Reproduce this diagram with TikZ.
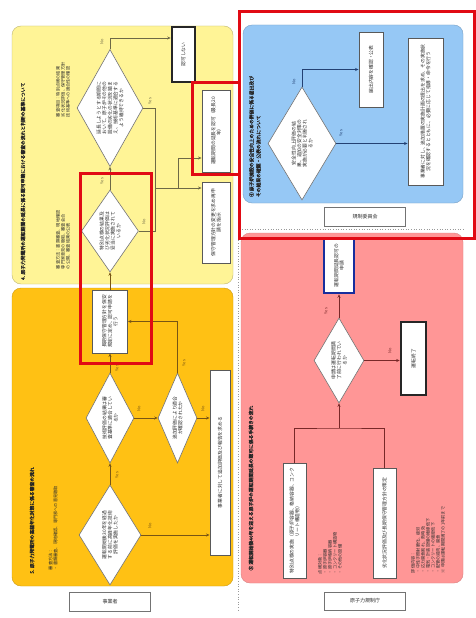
\documentclass[tikz,border=0pt]{standalone}
\usepackage{fontspec}
\setmainfont{Noto Sans CJK JP}
\newfontfamily\jpbold{Noto Sans CJK JP}[FakeBold=2]
\usepackage{graphicx}
\usetikzlibrary{shapes.geometric,arrows.meta}
\XeTeXlinebreaklocale "ja"
\XeTeXlinebreakskip=0pt plus 1pt

\definecolor{pnlyellow}{RGB}{255,244,150}
\definecolor{pnlorange}{RGB}{255,193,20}
\definecolor{pnlblue}{RGB}{150,200,245}
\definecolor{pnlpink}{RGB}{255,150,150}
\definecolor{hlred}{RGB}{225,10,20}
\definecolor{txtgray}{RGB}{45,45,45}
\definecolor{lineY}{RGB}{110,105,70}
\definecolor{lineO}{RGB}{120,85,20}
\definecolor{lineB}{RGB}{35,65,115}
\definecolor{lineP}{RGB}{120,40,40}

% rotated text: centred, or starting at the bottom
\newcommand{\vt}[2]{\rotatebox{90}{\parbox{#1}{\centering #2}}}
\newcommand{\vl}[2]{\rotatebox{90}{\parbox{#1}{\raggedright #2}}}

\tikzset{
  box/.style={draw=black!65, fill=white, line width=0.9pt, inner sep=0pt,
    font=\fontsize{4.8}{5.6}\selectfont, text=txtgray},
  endbox/.style={box, draw=black!85, line width=2.6pt},
  dia/.style={diamond, draw=black!55, fill=white, line width=0.6pt, inner sep=0pt},
  diatext/.style={inner sep=0pt, font=\fontsize{4.8}{5.6}\selectfont, text=txtgray},
  flow/.style={-{Stealth[length=3.5pt,width=3pt]}, line width=0.6pt},
  yn/.style={font=\fontsize{4}{4}\selectfont\itshape, inner sep=0pt, rotate=90},
  note/.style={inner sep=0pt, font=\fontsize{4.2}{5}\selectfont, text=txtgray},
  ttl/.style={inner sep=0pt, font=\jpbold\fontsize{4.8}{5.8}\selectfont, text=black!85},
  tag/.style={draw=black!55, fill=white, line width=0.8pt, minimum width=81pt,
    minimum height=19pt, font=\fontsize{5}{6}\selectfont, text=txtgray},
  hl/.style={draw=hlred, line width=3pt}
}

\begin{document}
\begin{tikzpicture}[x=1pt,y=-1pt]
  \useasboundingbox (0,0) rectangle (476,618);
  \fill[white] (0,0) rectangle (476,618);

  % Panels
  \draw[fill=pnlyellow, draw=pnlyellow!75!black, rounded corners=9pt] (12,26) rectangle (233,284);
  \draw[fill=pnlorange, draw=pnlorange!80!black, rounded corners=9pt] (12,288) rectangle (233,586);
  \draw[fill=pnlblue, draw=pnlblue!80!black, rounded corners=9pt] (243,25) rectangle (463,203);
  \draw[fill=pnlpink, draw=pnlpink!85!black, rounded corners=9pt] (241,233) rectangle (463,583);

  % Page edges
  \draw[black!40, dotted, line width=0.6pt] (238,230) -- (238,612);
  \draw[black!40, dotted, line width=0.6pt] (242,229) -- (464,229);

  % Yellow panel
  \begin{scope}[color=lineY]
    \node[ttl] (ytitle) at (23,155)
      {\vl{250pt}{4. 原子力発電所の運転期間の延長に係る認可申請における審査の流れと判断の基準について}};
    \node[note] (ynote1) at (63,75) {\vl{84pt}{審査項目：特別点検の結果\\劣化状況評価、保守管理方針\\技術基準への適合性の確認}};
    \node[note] (ynote2) at (63,218) {\vl{102pt}{審査方法：書類審査、現地確認\\専門家意見の聴取、審査会合\\の公開、審査結果の公表}};

    \node[dia, minimum width=66pt, minimum height=117pt] (d1) at (110,108) {};
    \node[diatext] (d1t) at (d1) {\vt{56pt}{延長しようとする期間において、原子炉その他の設備の劣化の状況を踏まえ、技術基準に適合するよう維持できるか}};
    \node[dia, minimum width=57pt, minimum height=82pt] (d2) at (110,231) {};
    \node[diatext] (d2t) at (d2) {\vt{40pt}{特別点検の結果及び劣化状況評価は妥当に実施されているか}};

    \node[endbox, minimum width=23pt, minimum height=55pt] (yend) at (183.5,54.5) {\vt{45pt}{認可しない}};
    \node[box, minimum width=28pt, minimum height=82pt] (yok) at (216,131) {\vt{72pt}{運転期間の延長を認可（最長20年）}};
    \node[box, minimum width=28pt, minimum height=81pt] (yfix) at (216,222.5) {\vt{72pt}{保守管理方針の変更を求め再申請を指示}};

    \coordinate (j1) at (155,188);
    \coordinate (j2) at (178,188);
    \draw[flow] (d1.north) |- ([yshift=16.5pt]yend.west);
    \draw[line width=0.6pt] (d1.east) -| (j1);
    \draw[line width=0.6pt] (d2.east) -| (j1);
    \draw[flow] (j1) -- (j1 -| yfix.west);
    \draw[flow] (j2) |- ([yshift=-27pt]yok.west);
    \draw[flow] (d2.north) -- (d1.south);

    \node[yn] (y1) at (102,42) {No};
    \node[yn] (y2) at (150,101) {Yes};
    \node[yn] (y3) at (102,181) {Yes};
    \node[yn] (y4) at (144,222) {No};
  \end{scope}

  % Orange panel
  \begin{scope}[color=lineO]
    \node[ttl] (otitle) at (32,481)
      {\vl{185pt}{5. 原子力発電所の高経年化対策に係る審査の流れ}};
    \node[note] (onote) at (53,496) {\vl{148pt}{審査方法：\\・書類審査、現地確認、専門家への意見聴取}};

    \node[box, minimum width=35pt, minimum height=63pt] (oplan) at (110,321.5) {\vt{55pt}{長期保守管理方針を保安規定に定め、認可申請を行う}};
    \node[dia, minimum width=48pt, minimum height=90pt] (d3) at (110,418) {};
    \node[diatext] (d3t) at (d3) {\vt{44pt}{技術評価の結果は審査基準に適合しているか}};
    \node[dia, minimum width=62pt, minimum height=100pt] (d4) at (110,535) {};
    \node[diatext] (d4t) at (d4) {\vt{50pt}{運転開始後30年を経過する前に高経年化技術評価を実施したか}};
    \node[dia, minimum width=39pt, minimum height=90pt] (d5) at (177.5,418) {};
    \node[diatext] (d5t) at (d5) {\vt{48pt}{追加評価により適合が確認されたか}};
    \node[box, minimum width=20pt, minimum height=185pt] (oask) at (220,462.5) {\vt{170pt}{事業者に対して追加評価及び報告を求める}};

    \draw[flow] (d4.north) -- (d3.south);
    \draw[flow] (d4.east) -- (d4.east -| oask.west);
    \draw[flow] (d3.east) -- (d5.west);
    \draw[flow] (d3.north) -- (oplan.south);
    \draw[flow] (d5.north) |- (oplan.east);
    \draw[flow] (d5.east) -- (d5.east -| oask.west);
    \draw[flow] (oplan.north) -- (d2.south);

    \node[yn] (o1) at (117,368) {Yes};
    \node[yn] (o2) at (139,409) {No};
    \node[yn] (o3) at (117,475) {Yes};
    \node[yn] (o4) at (150,526) {No};
    \node[yn] (o5) at (184,363) {Yes};
    \node[yn] (o6) at (203,409) {No};
  \end{scope}
  \node[tag] (tag1) at (110,602) {事業者};

  % Blue panel
  \begin{scope}[color=lineB]
    \node[ttl, font=\jpbold\fontsize{4.8}{7}\selectfont] (btitle) at (255,112)
      {\vl{170pt}{⑥ 原子炉施設の安全性向上のための評価に係る届出及び\\その結果の確認・公表の流れについて}};

    \node[dia, minimum width=68pt, minimum height=113pt] (d6) at (302,143.5) {};
    \node[diatext] (d6t) at (d6) {\vt{52pt}{安全性向上評価の結果、追加の安全対策の実施が必要と判断されるか}};
    \node[box, minimum width=24pt, minimum height=75pt] (bchk) at (371,69.5) {\vt{66pt}{届出内容を確認・公表}};
    \node[box, minimum width=35pt, minimum height=147pt] (bact) at (425.5,111.5) {\vt{138pt}{事業者に対し、追加措置の実施計画の提出を求め、その実施状況を確認するとともに、必要に応じて指導・命令を行う}};

    \draw[flow] (d6.north) |- (bchk.west);
    \draw[flow] (d6.east) -- (d6.east -| bact.west);

    \node[yn] (b1) at (294,82) {No};
    \node[yn] (b2) at (341,133) {Yes};
  \end{scope}
  \node[tag] (tag2) at (365,217) {規制委員会};

  % Pink panel
  \begin{scope}[color=lineP]
    \node[ttl] (ptitle) at (251,443)
      {\vl{255pt}{⑤ 運転開始後40年を迎える原子炉の運転期間延長の認可に係る手続きの流れ}};
    \node[note] (pnote1) at (330,518) {\vl{112pt}{点検対象：\\・原子炉容器\\・原子炉格納容器\\・コンクリート構造物\\・その他の設備}};
    \node[note] (pnote2) at (428,490) {\vl{166pt}{評価内容：\\・中性子照射脆化、疲労\\・応力腐食割れ、熱時効\\・電気・計装設備の絶縁低下\\・コンクリートの強度低下\\・配管の減肉、腐食\\※ 申請は運転期間満了の1年前まで}};

    \node[box, draw=lineB!70!blue, line width=2.5pt, minimum width=30pt, minimum height=55pt] (ptop) at (339,265.5) {\vt{48pt}{運転期間延長認可の申請}};
    \node[dia, minimum width=50pt, minimum height=85pt] (d7) at (339,360.5) {};
    \node[diatext] (d7t) at (d7) {\vt{40pt}{申請は運転期間満了前に行われているか}};
    \node[endbox, minimum width=25pt, minimum height=73pt] (pend) at (413.5,358.5) {\vt{60pt}{運転終了}};
    \node[box, minimum width=23pt, minimum height=115pt] (lbox) at (294.5,520.5) {\vt{106pt}{特別点検の実施（原子炉容器、格納容器、コンクリート構造物）}};
    \node[box, minimum width=23pt, minimum height=110pt] (rbox) at (384.5,523) {\vt{100pt}{劣化状況評価及び長期保守管理方針の策定}};

    \coordinate (pj) at (339,428);
    \draw[line width=0.6pt] (lbox.north) |- (pj) -| (rbox.north);
    \draw[flow] (pj) -- (d7.south);
    \draw[flow] (d7.north) -- (ptop.south);
    \draw[flow] (d7.east) -- (d7.east -| pend.west);

    \node[yn] (p1) at (326,311) {Yes};
    \node[yn] (p2) at (390,351) {No};
  \end{scope}
  \node[tag, minimum height=18pt] (tag3) at (365,601) {原子力規制庁};

  % Highlights
  \draw[hl] (239,12) rectangle (474,238);
  \draw[hl] (80,173) rectangle (151,363);
  \draw[hl] (192,82) rectangle (239,174);
\end{tikzpicture}
\end{document}
